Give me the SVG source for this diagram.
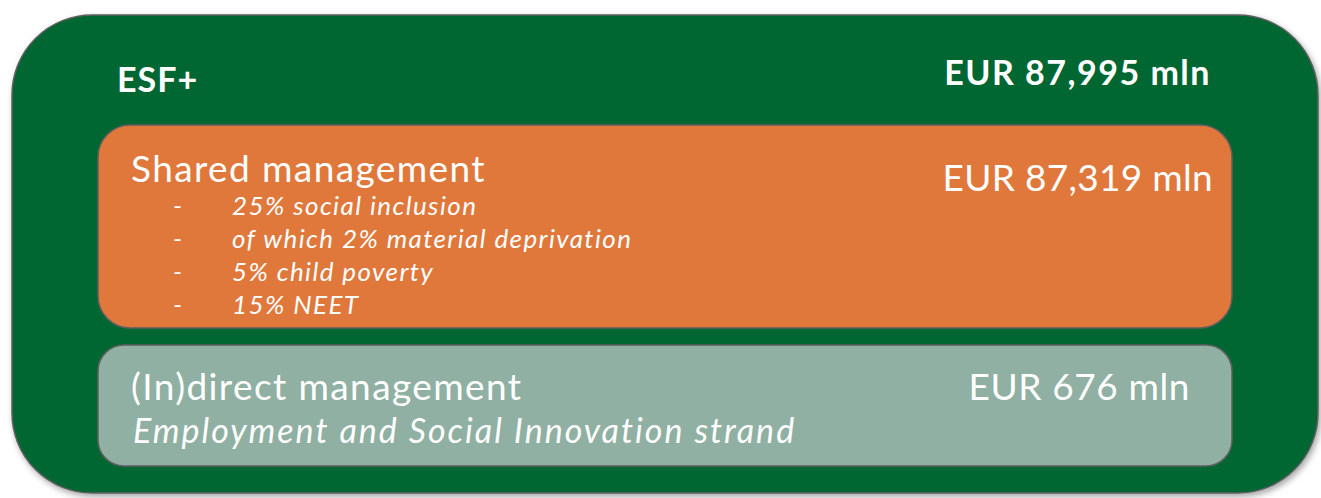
<svg xmlns="http://www.w3.org/2000/svg" width="1321" height="498" viewBox="0 0 1321 498">
  <style>
    text { font-family: Lato, "Open Sans", "Liberation Sans", sans-serif; fill: #ffffff; }
    .bold { font-weight: 700; font-size: 34px; letter-spacing: 1.5px; }
    .head { font-size: 37px; letter-spacing: 1.4px; }
    .amount { font-size: 37px; letter-spacing: 0.3px; }
    .item { font-size: 26px; font-style: italic; letter-spacing: 1.4px; }
    .sub { font-size: 34px; font-style: italic; letter-spacing: 2px; }
    .box { stroke: #5f5f5f; stroke-width: 1.5; }
  </style>
  <defs>
    <filter id="shadow" x="-5%" y="-5%" width="110%" height="115%">
      <feDropShadow dx="2" dy="3" stdDeviation="3" flood-color="#000" flood-opacity="0.35"/>
    </filter>
  </defs>

  <rect width="1321" height="498" fill="#ffffff"/>

  <!-- ESF+ frame -->
  <g id="esf">
    <rect x="12" y="15" width="1306" height="478" rx="80" ry="80" fill="#006633" class="box" filter="url(#shadow)"/>
    <text x="117" y="92" class="bold" style="letter-spacing:1px">ESF+</text>
    <text x="1211" y="85" class="bold" text-anchor="end">EUR 87,995 mln</text>
  </g>

  <!-- Shared management -->
  <g id="shared">
    <rect x="98" y="125" width="1134" height="203" rx="32" ry="32" fill="#E0783C" class="box"/>
    <text x="131" y="182" class="head">Shared management</text>
    <text x="1213" y="191" class="amount" text-anchor="end">EUR 87,319 mln</text>
    <g class="item">
      <text x="173" y="215">-</text><text x="232" y="215">25% social inclusion</text>
      <text x="173" y="248">-</text><text x="232" y="248">of which 2% material deprivation</text>
      <text x="173" y="281">-</text><text x="232" y="281">5% child poverty</text>
      <text x="173" y="314">-</text><text x="232" y="314">15% NEET</text>
    </g>
  </g>

  <!-- (In)direct management -->
  <g id="indirect">
    <rect x="98" y="345" width="1134" height="121" rx="26" ry="26" fill="#8FB0A2" class="box"/>
    <text x="131" y="400" class="head">(In)direct management</text>
    <text x="1190" y="400" class="amount" text-anchor="end" style="letter-spacing:0.6px">EUR 676 mln</text>
    <text x="133" y="443" class="sub">Employment and Social Innovation strand</text>
  </g>

  <g id="connectors"/>
</svg>
